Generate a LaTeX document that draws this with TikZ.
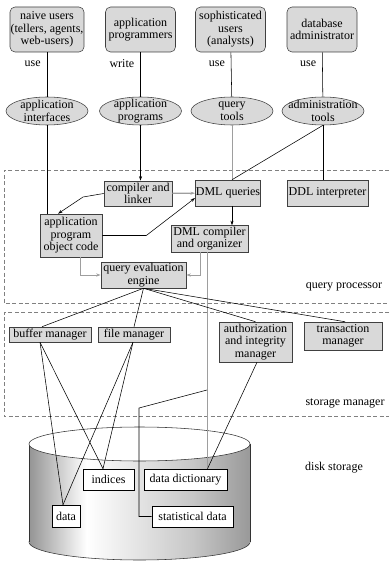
\documentclass[tikz,border=0pt]{standalone}
\usepackage{fontspec}
\setmainfont{Liberation Serif}
\usetikzlibrary{shapes.geometric, arrows.meta}
\definecolor{boxGray}{gray}{0.85}
\definecolor{lineGray}{gray}{0.62}
\pgfdeclarehorizontalshading{diskShade}{100bp}{color(0bp)=(black!42); color(25bp)=(black!42); color(38bp)=(white); color(62bp)=(black!22); color(75bp)=(black!40); color(100bp)=(black!40)}

\begin{document}
\begin{tikzpicture}[x=1pt, y=-1pt, line width=0.55pt, >={Stealth[length=4.5pt,width=3pt]},
    font=\fontsize{12}{12.5}\selectfont,
    user/.style={draw=black!75, fill=boxGray, rounded corners=5pt, align=center, inner sep=0.5pt, minimum width=70pt, minimum height=45pt},
    tool/.style={draw=black!75, fill=boxGray, ellipse, align=center, inner xsep=-7pt, inner ysep=-3.5pt, minimum width=82pt, minimum height=28pt},
    comp/.style={draw=black!75, fill=boxGray, align=center, inner sep=0.5pt},
    store/.style={draw=black, fill=white, align=center, inner sep=0.5pt},
    lbl/.style={left, inner sep=1pt, xshift=-5pt, pos=0.25},
    region/.style={gray, dash pattern=on 4pt off 2.5pt, line width=0.6pt},
    link/.style={lineGray, line width=0.8pt}]
    \useasboundingbox (0,0) rectangle (389,561);

    \draw[region] (389,170) -- (4,170) -- (4,303) -- (389,303);
    \draw[region] (389,312) -- (4,312) -- (4,416) -- (389,416);

    \shade[shading=diskShade, draw=black!80] (139.5,542) ellipse [x radius=110.5, y radius=18];
    \shade[shading=diskShade] (29,444) rectangle (250,542);
    \draw[black!80] (29,444) -- (29,542) (250,444) -- (250,542);
    \draw[black!80, fill=white] (139.5,444) ellipse [x radius=110.5, y radius=17];

    \node[user] (naive) at (47,29.5) {naive users\\(tellers, agents,\\web-users)};
    \node[user] (progr) at (140.5,29.5) {application\\programmers};
    \node[user] (soph) at (230.5,29.5) {sophisticated\\users\\(analysts)};
    \node[user] (dba) at (322,29.5) {database\\administrator};

    \node[tool] (appint) at (47,111) {application\\interfaces};
    \node[tool] (appprog) at (140.5,111) {application\\programs};
    \node[tool] (qtools) at (232,111) {query\\tools};
    \node[tool] (admtools) at (323,111) {administration\\tools};

    \node[comp, minimum width=68pt, minimum height=25pt] (compiler) at (138,193.5) {compiler and\\linker};
    \node[comp, minimum width=60pt, minimum height=26pt] (dmlq) at (228,193) {DML queries};
    \node[comp, minimum width=81pt, minimum height=26pt] (ddl) at (327.5,193) {DDL interpreter};
    \node[comp, minimum width=62pt, minimum height=43pt] (objcode) at (71,235.5) {application\\program\\object code};
    \node[comp, minimum width=77pt, minimum height=27pt] (dmlcomp) at (209.5,238.5) {DML compiler\\and organizer};
    \node[comp, minimum width=85pt, minimum height=26pt] (queval) at (143.5,275) {query evaluation\\engine};
    \node[comp, minimum width=82pt, minimum height=15pt] (buffer) at (50,334.5) {buffer manager};
    \node[comp, minimum width=72pt, minimum height=15pt] (filemgr) at (134,334.5) {file manager};
    \node[comp, minimum width=73pt, minimum height=40pt] (auth) at (255.5,342) {authorization\\and integrity\\manager};
    \node[comp, minimum width=78pt, minimum height=28pt] (trans) at (343,336) {transaction\\manager};

    \node[store, minimum width=51pt, minimum height=21pt] (indices) at (108.5,479.5) {indices};
    \node[store, minimum width=83pt, minimum height=21pt] (datadict) at (185.5,479.5) {data dictionary};
    \node[store, minimum width=28pt, minimum height=22pt] (data) at (66,516) {data};
    \node[store, minimum width=81pt, minimum height=21pt] (statdata) at (192.5,516.5) {statistical data};

    \node (qplabel) at (344,287) {query processor};
    \node (smlabel) at (345,403) {storage manager};
    \node (dslabel) at (334,468) {disk storage};

    \draw (naive) -- node[lbl] (use1) {use} (appint);
    \draw (progr) -- node[lbl] (write1) {write} (appprog);
    \draw (soph) -- node[lbl] (use2) {use} (qtools);
    \draw (dba) -- node[lbl] (use3) {use} (admtools);

    \draw (appint) -- (appint |- objcode.north);
    \draw[->] (appprog) -- (appprog |- compiler.north);
    \draw[link] (qtools) -- (qtools |- dmlq.north);
    \draw (admtools.south) -- ([xshift=4pt]dmlq.north);
    \draw (admtools) -- (admtools |- ddl.north);

    \draw[link, line width=1.3pt, ->] (compiler) -- (dmlq);
    \coordinate (bendA) at (83,197);
    \draw[->] (compiler.west) -- (bendA) -- ([xshift=-13pt]objcode.north);
    \draw[->] (objcode.east) -- ++(44,0) -- ([yshift=-5pt]dmlq.west);
    \draw[->] ([xshift=4pt]dmlq.south) -- ++(0,19);
    \draw[link, ->] ([xshift=9pt]objcode.south) |- (queval.west);
    \draw[link, ->] ([xshift=-9.5pt]dmlcomp.south) |- (queval.east);

    \coordinate (gTop) at ([xshift=-2.5pt]dmlcomp.south);
    \draw[link] (gTop) -- (gTop |- datadict.north);
    \coordinate (tap) at (207,390);
    \draw (tap) -- (139,408) |- (statdata.west);

    \draw (queval.south) -- ([xshift=-8pt]buffer.north);
    \draw (queval.south) -- (filemgr.north);
    \draw (queval.south) -- (auth.north);
    \draw (queval.south) -- ([xshift=2pt]trans.north);

    \draw ([xshift=-10pt]buffer.south) -- ([xshift=-3pt]data.north);
    \draw ([xshift=-10pt]buffer.south) -- ([xshift=-5.5pt]indices.north);
    \draw ([xshift=-1pt]filemgr.south) -- ([xshift=-3pt]data.north);
    \draw ([xshift=-1pt]filemgr.south) -- ([xshift=-5.5pt]indices.north);
    \draw ([xshift=1.5pt]auth.south) -- ([xshift=22pt]datadict.north);
\end{tikzpicture}
\end{document}
